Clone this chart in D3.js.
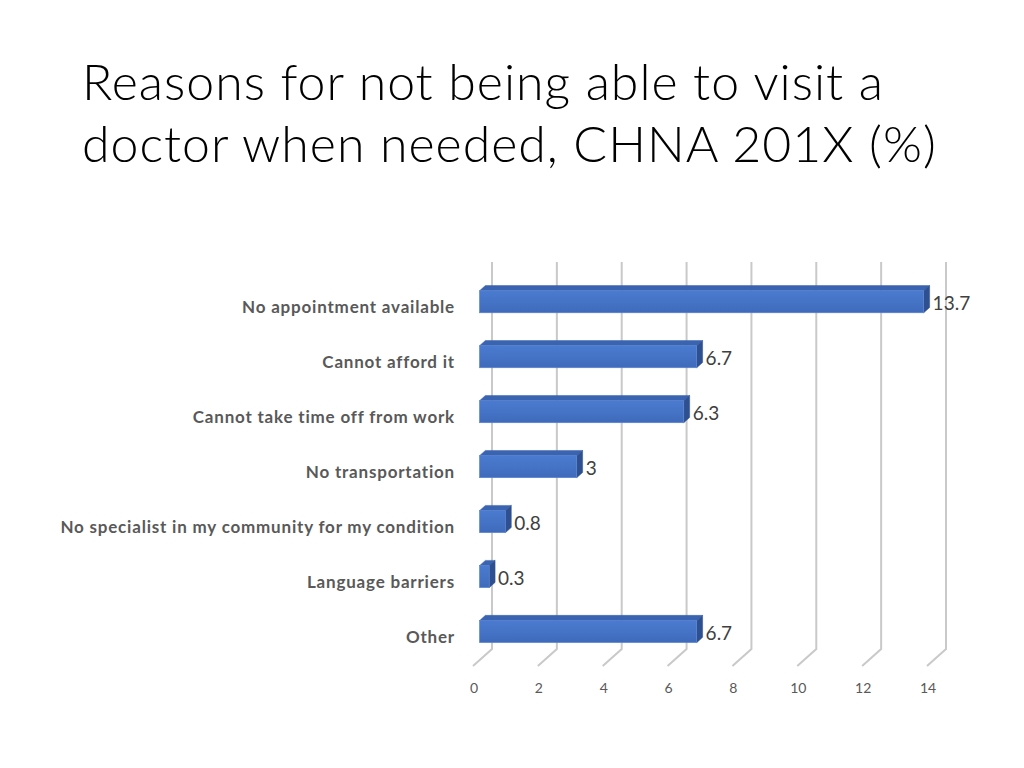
<!DOCTYPE html>
<html>
<head>
<meta charset="utf-8">
<script src="https://cdn.jsdelivr.net/npm/d3@7"></script>
<style>
  html, body { margin: 0; padding: 0; background: #fff; }
  svg { display: block; }
</style>
</head>
<body>
<div id="chart"></div>
<script>
// Chart data
const titleLines = ['Reasons for not being able to visit a', 'doctor when needed, CHNA 201X (%)'];
const categories = [
    'No appointment available',
    'Cannot afford it',
    'Cannot take time off from work',
    'No transportation',
    'No specialist in my community for my condition',
    'Language barriers',
    'Other'
];
const values = [13.7, 6.7, 6.3, 3, 0.8, 0.3, 6.7];
const ticks = [0, 2, 4, 6, 8, 10, 12, 14];

const width = 1024;
const height = 768;

// 3D oblique projection settings: depth 0 = back wall, 1 = front edge of floor
const depthDx = -19;
const depthDy = 17;
const barDepthFront = 0.66;
const barDepthBack = 0.35;

const svg = d3.select('#chart')
    .append('svg')
    .attr('width', width)
    .attr('height', height);

// Title
svg.append('g')
    .selectAll('text')
    .data(titleLines)
    .enter()
    .append('text')
    .attr('x', 82)
    .attr('y', (d, i) => 100 + i * 62)
    .attr('font-family', 'Lato, "Open Sans", sans-serif')
    .attr('font-weight', 300)
    .attr('font-size', '50px')
    .attr('letter-spacing', '1px')
    .attr('fill', '#000')
    .text(d => d);

// Scales on the back wall plane
const x = d3.scaleLinear().domain([0, 14]).range([492, 946]);
const y = d3.scaleBand()
    .domain(categories)
    .range([262, 649])
    .paddingInner(0.6)
    .paddingOuter(0.32);

const wallTop = 262;
const wallBottom = 649;

function proj(px, py, d) {
    return [px + depthDx * d, py + depthDy * d];
}

// Gridlines: back wall verticals plus floor diagonals
const grid = svg.append('g').attr('class', 'grid');
grid.selectAll('path')
    .data(ticks)
    .enter()
    .append('path')
    .attr('fill', 'none')
    .attr('stroke', '#c9c9c9')
    .attr('stroke-width', 2)
    .attr('d', t => {
        const [fx, fy] = proj(x(t), wallBottom, 1);
        return `M${x(t)},${wallTop}V${wallBottom}L${fx},${fy}`;
    });

// Tick labels at the front edge of the floor
svg.append('g')
    .selectAll('text')
    .data(ticks)
    .enter()
    .append('text')
    .attr('x', t => proj(x(t), wallBottom, 1)[0] + 1)
    .attr('y', 693)
    .attr('text-anchor', 'middle')
    .attr('font-family', 'Lato, "Open Sans", sans-serif')
    .attr('font-size', '14px')
    .attr('fill', '#595959')
    .text(t => t);

// Gradient for the bar front face
const defs = svg.append('defs');
const grad = defs.append('linearGradient')
    .attr('id', 'barFront')
    .attr('x1', 0).attr('y1', 0).attr('x2', 0).attr('y2', 1);
grad.append('stop').attr('offset', '0%').attr('stop-color', '#4a7bd0');
grad.append('stop').attr('offset', '50%').attr('stop-color', '#4573c5');
grad.append('stop').attr('offset', '100%').attr('stop-color', '#3f6abb');

const bars = svg.append('g')
    .selectAll('g')
    .data(categories.map((c, i) => ({ name: c, value: values[i] })))
    .enter()
    .append('g');

function pt(p) { return p[0] + ',' + p[1]; }

// Top face
bars.append('path')
    .attr('fill', '#3a63b0')
    .attr('stroke', '#3a63b0')
    .attr('stroke-width', 0.5)
    .attr('d', d => {
        const yt = y(d.name);
        return 'M' + pt(proj(x(0), yt, barDepthFront)) +
            'L' + pt(proj(x(d.value), yt, barDepthFront)) +
            'L' + pt(proj(x(d.value), yt, barDepthBack)) +
            'L' + pt(proj(x(0), yt, barDepthBack)) + 'Z';
    });

// Right side face
bars.append('path')
    .attr('fill', '#2e5090')
    .attr('stroke', '#2e5090')
    .attr('stroke-width', 0.5)
    .attr('d', d => {
        const yt = y(d.name);
        const yb = yt + y.bandwidth();
        return 'M' + pt(proj(x(d.value), yt, barDepthFront)) +
            'L' + pt(proj(x(d.value), yt, barDepthBack)) +
            'L' + pt(proj(x(d.value), yb, barDepthBack)) +
            'L' + pt(proj(x(d.value), yb, barDepthFront)) + 'Z';
    });

// Front face
bars.append('rect')
    .attr('x', d => proj(x(0), 0, barDepthFront)[0])
    .attr('y', d => proj(0, y(d.name), barDepthFront)[1])
    .attr('width', d => x(d.value) - x(0))
    .attr('height', y.bandwidth())
    .attr('fill', 'url(#barFront)')
    .attr('stroke', '#5a86d2')
    .attr('stroke-width', 0.6);

// Value labels
bars.append('text')
    .attr('x', d => proj(x(d.value), 0, barDepthBack)[0] + 3)
    .attr('y', d => proj(0, y(d.name) + y.bandwidth() / 2, barDepthFront)[1] + 8)
    .attr('font-family', 'Lato, "Open Sans", sans-serif')
    .attr('font-size', '19px')
    .attr('fill', '#404040')
    .text(d => d.value);

// Category labels
svg.append('g')
    .selectAll('text')
    .data(categories)
    .enter()
    .append('text')
    .attr('x', 455)
    .attr('y', c => proj(0, y(c) + y.bandwidth() / 2, barDepthFront)[1] + 11)
    .attr('text-anchor', 'end')
    .attr('font-family', 'Lato, "Open Sans", sans-serif')
    .attr('font-weight', 'bold')
    .attr('font-size', '17px')
    .attr('letter-spacing', '0.8px')
    .attr('fill', '#595959')
    .text(c => c);
</script>
</body>
</html>
